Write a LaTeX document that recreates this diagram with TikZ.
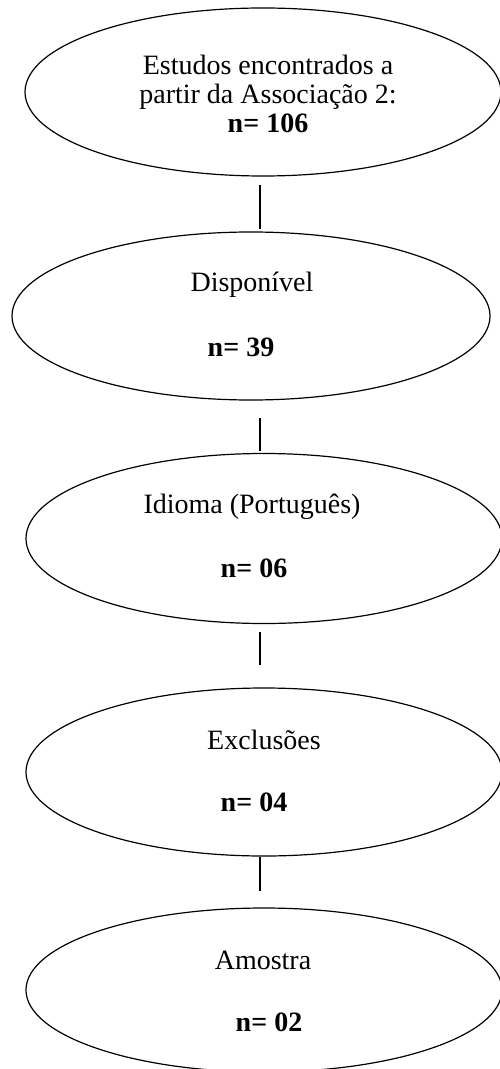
\documentclass[tikz,border=0pt]{standalone}
\usepackage{fontspec}
\setmainfont{Liberation Serif}
\usetikzlibrary{shapes.geometric}

\tikzset{every picture/.style={line width=0.6pt}}
\tikzset{
  stage/.style={draw, ellipse, inner sep=0pt, outer sep=0pt, minimum width=238pt, minimum height=84pt},
  lbl/.style={inner sep=0.75pt, font=\fontsize{14}{14.3}\selectfont},
  cnt/.style={inner sep=0.75pt, font=\fontsize{14}{14.3}\selectfont\bfseries}
}

\begin{document}
\begin{tikzpicture}[x=0.5pt,y=0.5pt,yscale=-1]
	%set diagram left start at 0, and has height of 1069
	\useasboundingbox (0,0) rectangle (499,1069);
	
	%Shape: Ellipse [id:e1] 
	\node [stage] (e1) at (263,92) {};
	%Shape: Ellipse [id:e2] 
	\node [stage, minimum width=239pt] (e2) at (251,316) {};
	%Shape: Ellipse [id:e3] 
	\node [stage, minimum height=85pt] (e3) at (264,538.5) {};
	%Shape: Ellipse [id:e4] 
	\node [stage] (e4) at (264,772) {};
	%Shape: Ellipse [id:e5] 
	\node [stage, minimum height=82pt] (e5) at (264,990) {};
	
	%Straight Lines 
	\coordinate (a1) at (260,185);
	\coordinate (b1) at (260,229);
	\coordinate (a2) at (260,418);
	\coordinate (b2) at (260,451);
	\coordinate (a3) at (260,632);
	\coordinate (b3) at (260,665);
	\coordinate (a4) at (260,857);
	\coordinate (b4) at (260,891);
	\draw (a1) -- (b1) ;
	\draw (a2) -- (b2) ;
	\draw (a3) -- (b3) ;
	\draw (a4) -- (b4) ;
	
	% Text Node
	\node [lbl, align=center] (t1) at (268,94) {Estudos encontrados a\\partir da Associação 2:\\\textbf{n= 106}};
	% Text Node
	\node [lbl] (t2) at (252,285) {Disponível};
	\node [cnt] (n2) at (241,347) {n= 39};
	% Text Node
	\node [lbl] (t3) at (252,507) {Idioma (Português)};
	\node [cnt] (n3) at (254,568) {n= 06};
	% Text Node
	\node [lbl] (t4) at (264,740) {Exclusões};
	\node [cnt] (n4) at (254,802) {n= 04};
	% Text Node
	\node [lbl] (t5) at (263,960) {Amostra};
	\node [cnt] (n5) at (269,1022) {n= 02};
	
\end{tikzpicture}
\end{document}
